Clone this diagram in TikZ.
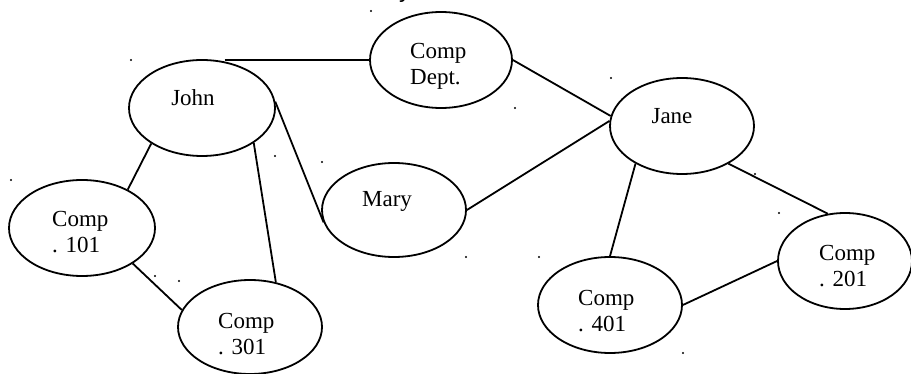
\documentclass[tikz,border=0pt]{standalone}
\usepackage{fontspec}
\setmainfont{Liberation Serif}
\newfontfamily\titlesans{Liberation Sans}
\usetikzlibrary{shapes.geometric}
\begin{document}
\begin{tikzpicture}[x=1pt,y=-1pt,
  ent/.style={ellipse,draw,line width=1.8pt,inner sep=0pt},
  lbl/.style={inner sep=0pt,font=\fontsize{23}{26}\selectfont},
  lbl2/.style={lbl,align=left,anchor=base west},
  edge/.style={line width=1.8pt},
  speck/.style={fill=black}]
\useasboundingbox (0,0) rectangle (911,374);
% ellipses
\node[ent,minimum width=146pt,minimum height=96pt] (john) at (202,108) {};
\node[ent,minimum width=142pt,minimum height=96pt] (dept) at (441,60) {};
\node[ent,minimum width=144pt,minimum height=96pt] (jane) at (682,126) {};
\node[ent,minimum width=144pt,minimum height=94pt] (mary) at (394,210) {};
\node[ent,minimum width=146pt,minimum height=96pt] (c101) at (82,228) {};
\node[ent,minimum width=144pt,minimum height=94pt] (c301) at (250,327) {};
\node[ent,minimum width=144pt,minimum height=96pt] (c401) at (610,305) {};
\node[ent,minimum width=134pt,minimum height=96pt] (c201) at (845,261) {};
% labels
\node[lbl,anchor=base] (tjohn) at (193,106) {John};
\node[lbl2] (tdept) at (410,85) {Comp\\Dept.};
\node[lbl,anchor=base] (tjane) at (672,124) {Jane};
\node[lbl,anchor=base] (tmary) at (387,207) {Mary};
\node[lbl2] (t101) at (52,253) {Comp\\. 101};
\node[lbl2] (t301) at (218,355) {Comp\\. 301};
\node[lbl2] (t401) at (578,331) {Comp\\. 401};
\node[lbl2] (t201) at (819,287) {Comp\\. 201};
\node[inner sep=0pt,anchor=base west,font=\titlesans\fontsize{24}{26}\selectfont] (ttitle) at (399,-2) {y};
% connectors
\draw[edge] (john.64 |- dept.west) -- (dept.west);
\draw[edge] (dept.east) -- (jane.172);
\draw[edge] (mary.east) -- (jane.176);
\draw[edge] (john.5) -- (mary.190);
\draw[edge] (john.-34) -- (c301.60);
\draw[edge] (john.215) -- (c101.40);
\draw[edge] (c101.-35) -- (c301.166);
\draw[edge] (jane.219) -- (c401.north);
\draw[edge] (jane.-39) -- (c201.110);
\draw[edge] (c401.east) -- (c201.west);
% stray specks
\foreach \p in {(371,11),(131,60),(275,156),(322,162),(11,180),(611,78),(515,108),(755,174),(155,276),(179,281),(466,257),(539,257),(779,213),(683,353)}
  \fill[speck] \p circle (1.1pt);
\end{tikzpicture}
\end{document}
